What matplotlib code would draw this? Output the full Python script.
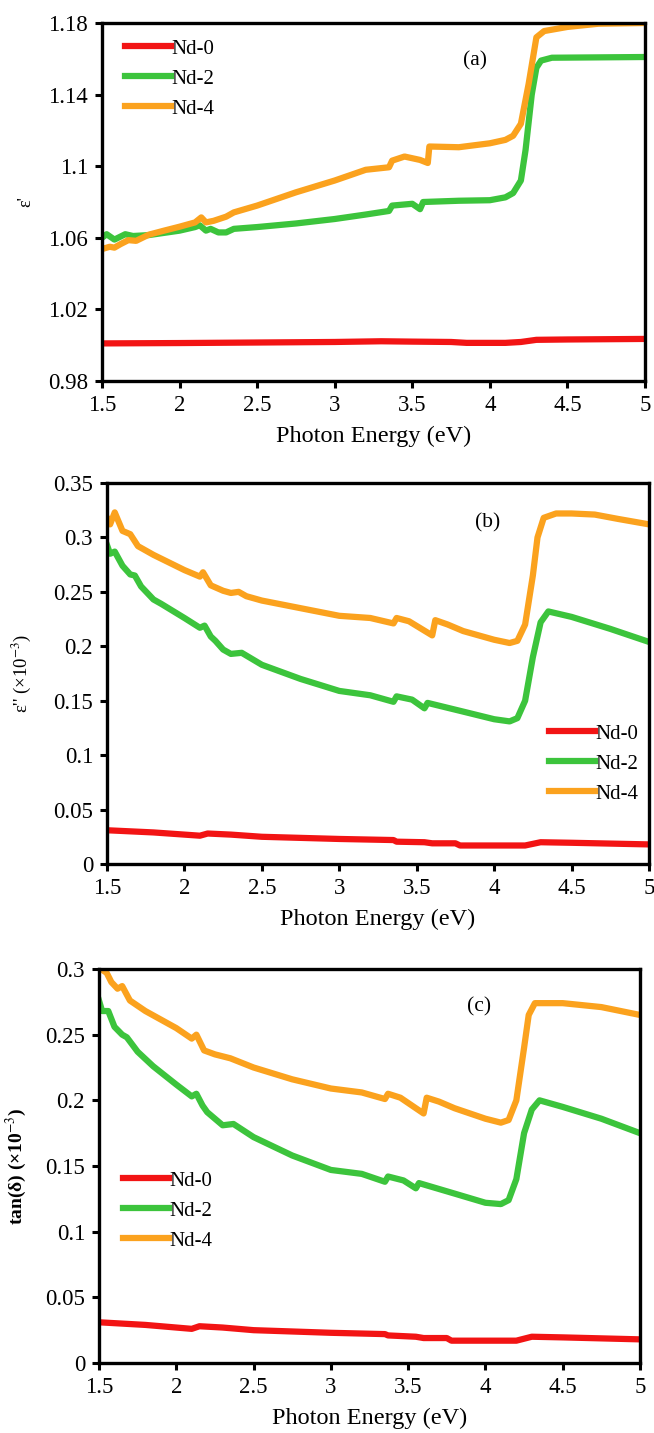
import numpy as np
import matplotlib
matplotlib.use('Agg')
import matplotlib.pyplot as plt

plt.rcParams['font.family'] = ['Liberation Serif', 'DejaVu Serif']
plt.rcParams['mathtext.fontset'] = 'stix'

# ---- data ----
# panel (a) real part
a_x0 = [1.5, 2.0, 2.5, 3.0, 3.3, 3.5, 3.75, 3.85, 4.1, 4.2, 4.3, 4.5, 5.0]
a_nd0 = [1.0010, 1.0012, 1.0015, 1.0018, 1.0022, 1.0020, 1.0018, 1.0013, 1.0013, 1.0018, 1.0030, 1.0032, 1.0035]
a_x2 = [1.5, 1.53, 1.58, 1.65, 1.7, 1.8, 2.0, 2.1, 2.13, 2.17, 2.2, 2.25, 2.3, 2.35, 2.5, 2.75, 3.0, 3.2,
        3.35, 3.37, 3.5, 3.55, 3.57, 3.8, 4.0, 4.1, 4.15, 4.2, 4.23, 4.27, 4.3, 4.33, 4.4, 5.0]
a_nd2 = [1.060, 1.062, 1.059, 1.062, 1.061, 1.0615, 1.064, 1.066, 1.067, 1.064, 1.065, 1.063, 1.063, 1.065,
         1.066, 1.068, 1.0705, 1.073, 1.075, 1.078, 1.079, 1.076, 1.080, 1.0807, 1.081, 1.0826, 1.085, 1.092,
         1.109, 1.140, 1.155, 1.159, 1.1606, 1.161]
a_x4 = [1.5, 1.55, 1.58, 1.62, 1.67, 1.72, 1.8, 1.9, 2.0, 2.1, 2.14, 2.17, 2.22, 2.3, 2.35, 2.5, 2.75, 3.0,
        3.2, 3.35, 3.37, 3.45, 3.55, 3.6, 3.61, 3.8, 4.0, 4.1, 4.15, 4.2, 4.25, 4.3, 4.35, 4.5, 4.7, 5.0]
a_nd4 = [1.0537, 1.055, 1.0545, 1.0565, 1.0587, 1.0583, 1.0617, 1.064, 1.0662, 1.0686, 1.0714, 1.0686,
         1.0695, 1.0718, 1.0742, 1.078, 1.0854, 1.092, 1.098, 1.0994, 1.1031, 1.1054, 1.1035, 1.1018, 1.111,
         1.1106, 1.1128, 1.1147, 1.117, 1.1237, 1.146, 1.172, 1.1755, 1.1778, 1.1796, 1.18]

# panel (b) imaginary part
b_x0 = [1.5, 1.8, 2.1, 2.15, 2.3, 2.5, 3.0, 3.35, 3.37, 3.55, 3.6, 3.75, 3.78, 4.2, 4.3, 4.5, 5.0]
b_nd0 = [0.031, 0.029, 0.026, 0.028, 0.027, 0.025, 0.023, 0.022, 0.0205, 0.020, 0.019, 0.019, 0.017, 0.017,
         0.020, 0.0195, 0.018]
b_x2 = [1.5, 1.52, 1.55, 1.6, 1.65, 1.68, 1.72, 1.8, 1.85, 2.0, 2.1, 2.13, 2.17, 2.2, 2.25, 2.3, 2.37, 2.5,
        2.75, 3.0, 3.2, 3.35, 3.37, 3.47, 3.55, 3.57, 3.8, 4.0, 4.1, 4.15, 4.2, 4.25, 4.3, 4.35, 4.5, 4.75, 5.0]
b_nd2 = [0.293, 0.285, 0.287, 0.274, 0.266, 0.265, 0.255, 0.243, 0.239, 0.226, 0.217, 0.219, 0.209, 0.205,
         0.197, 0.193, 0.194, 0.183, 0.170, 0.159, 0.155, 0.149, 0.154, 0.151, 0.143, 0.148, 0.140, 0.133,
         0.131, 0.134, 0.150, 0.190, 0.222, 0.232, 0.227, 0.216, 0.204]
b_x4 = [1.5, 1.52, 1.55, 1.6, 1.65, 1.7, 1.8, 2.0, 2.1, 2.12, 2.17, 2.25, 2.3, 2.35, 2.4, 2.5, 2.75, 3.0,
        3.2, 3.35, 3.37, 3.45, 3.6, 3.62, 3.7, 3.8, 4.0, 4.1, 4.15, 4.2, 4.25, 4.28, 4.32, 4.4, 4.5, 4.65,
        4.8, 5.0]
b_nd4 = [0.318, 0.312, 0.323, 0.306, 0.303, 0.292, 0.284, 0.270, 0.264, 0.268, 0.256, 0.251, 0.249, 0.250,
         0.246, 0.242, 0.235, 0.228, 0.226, 0.221, 0.226, 0.223, 0.210, 0.224, 0.220, 0.214, 0.206, 0.203,
         0.205, 0.220, 0.265, 0.300, 0.318, 0.322, 0.322, 0.321, 0.317, 0.312]

# panel (c) loss tangent
c_x0 = [1.5, 1.8, 2.1, 2.15, 2.3, 2.5, 3.0, 3.35, 3.37, 3.55, 3.6, 3.75, 3.78, 4.2, 4.3, 4.5, 5.0]
c_nd0 = [0.031, 0.029, 0.026, 0.028, 0.027, 0.025, 0.023, 0.022, 0.021, 0.020, 0.019, 0.019, 0.017, 0.017,
         0.020, 0.0195, 0.018]
c_x2 = [1.5, 1.52, 1.56, 1.6, 1.65, 1.68, 1.75, 1.85, 2.0, 2.1, 2.13, 2.17, 2.2, 2.25, 2.3, 2.37, 2.5, 2.75,
        3.0, 3.2, 3.35, 3.37, 3.47, 3.55, 3.57, 3.8, 4.0, 4.1, 4.15, 4.2, 4.25, 4.3, 4.35, 4.5, 4.75, 5.0]
c_nd2 = [0.276, 0.268, 0.268, 0.256, 0.250, 0.248, 0.237, 0.226, 0.212, 0.203, 0.205, 0.196, 0.191, 0.186,
         0.181, 0.182, 0.172, 0.158, 0.147, 0.144, 0.138, 0.142, 0.139, 0.133, 0.137, 0.129, 0.122, 0.121,
         0.124, 0.140, 0.175, 0.193, 0.200, 0.195, 0.186, 0.175]
c_x4 = [1.5, 1.55, 1.58, 1.62, 1.65, 1.7, 1.8, 2.0, 2.1, 2.13, 2.18, 2.25, 2.35, 2.5, 2.75, 3.0, 3.2, 3.35,
        3.37, 3.45, 3.6, 3.62, 3.7, 3.8, 4.0, 4.1, 4.15, 4.2, 4.25, 4.28, 4.32, 4.5, 4.75, 5.0]
c_nd4 = [0.301, 0.297, 0.290, 0.285, 0.287, 0.276, 0.268, 0.255, 0.247, 0.250, 0.238, 0.235, 0.232, 0.225,
         0.216, 0.209, 0.206, 0.201, 0.205, 0.202, 0.190, 0.202, 0.199, 0.194, 0.186, 0.183, 0.185, 0.200,
         0.240, 0.265, 0.274, 0.274, 0.271, 0.265]

labels = ['Nd-0', 'Nd-2', 'Nd-4']
colors = ['#f21414', '#3cc43c', '#fba21e']

a_yticks = [0.98, 1.02, 1.06, 1.1, 1.14, 1.18]
a_yticklabels = ['0.98', '1.02', '1.06', '1.1', '1.14', '1.18']
b_yticks = [0, 0.05, 0.1, 0.15, 0.2, 0.25, 0.3, 0.35]
b_yticklabels = ['0', '0.05', '0.1', '0.15', '0.2', '0.25', '0.3', '0.35']
c_yticks = [0, 0.05, 0.1, 0.15, 0.2, 0.25, 0.3]
c_yticklabels = ['0', '0.05', '0.1', '0.15', '0.2', '0.25', '0.3']
xticks = [1.5, 2, 2.5, 3, 3.5, 4, 4.5, 5]
xticklabels = ['1.5', '2', '2.5', '3', '3.5', '4', '4.5', '5']

W, H = 654, 1433
fig = plt.figure(figsize=(W / 100, H / 100), dpi=100)


def make_ax(left, right, top, bottom):
    return fig.add_axes([left / W, 1 - bottom / H, (right - left) / W, (bottom - top) / H])


def style(ax, yticks, yticklabels, ylim, ylabel, ylab_bold, ylab_size, px_h, lab_x, px_left, px_w):
    ax.set_xlim(1.5, 5)
    ax.set_ylim(*ylim)
    ax.set_xticks(xticks)
    ax.set_xticklabels(xticklabels)
    ax.set_yticks(yticks)
    ax.set_yticklabels(yticklabels)
    ax.tick_params(axis='both', direction='out', length=5, width=2.2, labelsize=16.5, pad=5)
    for s in ax.spines.values():
        s.set_linewidth(2.4)
    ax.set_xlabel('Photon Energy (eV)', fontsize=17.5)
    ax.xaxis.set_label_coords(0.5, -45 / px_h)
    ax.set_ylabel(ylabel, fontsize=ylab_size, fontweight='bold' if ylab_bold else 'normal')
    ax.yaxis.set_label_coords((lab_x + 8 - px_left) / px_w, 0.5)


leg_kw = dict(loc='upper left', frameon=False, fontsize=15, handlelength=2.2, handletextpad=0.05,
              labelspacing=0.5, borderpad=0, borderaxespad=0)

# (a)
ax = make_ax(102, 645, 23, 381)
ax.plot(a_x0, a_nd0, color=colors[0], lw=4.5, label=labels[0])
ax.plot(a_x2, a_nd2, color=colors[1], lw=4.5, label=labels[1])
ax.plot(a_x4, a_nd4, color=colors[2], lw=4.5, label=labels[2])
style(ax, a_yticks, a_yticklabels, (0.98, 1.18), "ε'", False, 13, 358, 26, 102, 543)
ax.text(0.687, 0.895, '(a)', transform=ax.transAxes, fontsize=15.5, ha='center', va='center')
ax.legend(bbox_to_anchor=(0.042, 0.955), **leg_kw)

# (b)
ax1 = make_ax(107, 649, 483, 864)
ax1.plot(b_x0, b_nd0, color=colors[0], lw=4.5, label=labels[0])
ax1.plot(b_x2, b_nd2, color=colors[1], lw=4.5, label=labels[1])
ax1.plot(b_x4, b_nd4, color=colors[2], lw=4.5, label=labels[2])
style(ax1, b_yticks, b_yticklabels, (0, 0.35), "ε'' (×10$^{-3}$)", False, 13.5, 381, 25, 107, 542)
ax1.text(0.703, 0.895, '(b)', transform=ax1.transAxes, fontsize=15.5, ha='center', va='center')
ax1.legend(bbox_to_anchor=(0.815, 0.367), **leg_kw)

# (c)
ax2 = make_ax(99, 640, 969, 1363)
ax2.plot(c_x0, c_nd0, color=colors[0], lw=4.5, label=labels[0])
ax2.plot(c_x2, c_nd2, color=colors[1], lw=4.5, label=labels[1])
ax2.plot(c_x4, c_nd4, color=colors[2], lw=4.5, label=labels[2])
style(ax2, c_yticks, c_yticklabels, (0, 0.3), "tan(δ) (×10$^{-3}$)", True, 14, 394, 21, 99, 541)
ax2.text(0.702, 0.905, '(c)', transform=ax2.transAxes, fontsize=15.5, ha='center', va='center')
ax2.legend(bbox_to_anchor=(0.044, 0.487), **leg_kw)

plt.savefig('out.png', dpi=100)
